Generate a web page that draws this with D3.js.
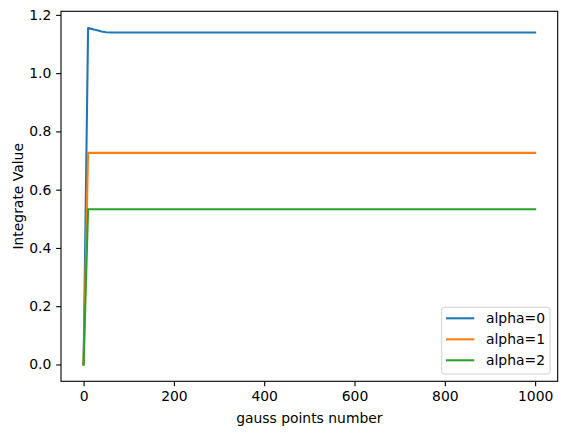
<!DOCTYPE html>
<html><head><meta charset="utf-8">
<script src="https://cdn.jsdelivr.net/npm/d3@7"></script>
<style>body{margin:0;background:#fff}svg{display:block}text{font-family:"DejaVu Sans",sans-serif}</style>
</head><body><svg id="c" width="567" height="434"></svg>
<script>
const xValues = [0, 10, 20, 30, 40, 50, 60, 100, 200, 300, 400, 500, 600, 700, 800, 900, 1000];
const alpha0 = [0, 1.1545, 1.151, 1.147, 1.143, 1.1405, 1.1397, 1.1394, 1.1394, 1.1394, 1.1394, 1.1394, 1.1394, 1.1394, 1.1394, 1.1394, 1.1394];
const alpha1 = [0, 0.7263, 0.7263, 0.7263, 0.7263, 0.7263, 0.7263, 0.7263, 0.7263, 0.7263, 0.7263, 0.7263, 0.7263, 0.7263, 0.7263, 0.7263, 0.7263];
const alpha2 = [0, 0.533, 0.533, 0.533, 0.533, 0.533, 0.533, 0.533, 0.533, 0.533, 0.533, 0.533, 0.533, 0.533, 0.533, 0.533, 0.533];
const seriesNames = ["alpha=0", "alpha=1", "alpha=2"];
const colors = ["#1f77b4", "#ff7f0e", "#2ca02c"];
const xTicks = [0, 200, 400, 600, 800, 1000];
const yTicks = [0.0, 0.2, 0.4, 0.6, 0.8, 1.0, 1.2];
const xLabel = "gauss points number";
const yLabel = "Integrate Value";

const series = [alpha0, alpha1, alpha2];
const svg = d3.select("#c");
const L = 61, R = 557.7, T = 11.3, B = 381.3;
const fs = 13.9;

const xmin = d3.min(xValues), xmax = d3.max(xValues);
const xpad = (xmax - xmin) * 0.05;
const allY = series.flat();
const ymin = d3.min(allY), ymax = d3.max(allY);
const ypad = (ymax - ymin) * 0.05;
const x = d3.scaleLinear().domain([xmin - xpad, xmax + xpad]).range([L, R]);
const y = d3.scaleLinear().domain([ymin - ypad, ymax + ypad]).range([B, T]);

const line = d3.line().x((d, i) => x(xValues[i])).y(d => y(d));
series.forEach((s, k) => {
  svg.append("path").datum(s).attr("d", line)
    .attr("fill", "none").attr("stroke", colors[k]).attr("stroke-width", 2.08)
    .attr("stroke-linejoin", "round").attr("stroke-linecap", "square");
});

const xa = svg.append("g").attr("transform", `translate(0,${B})`)
  .call(d3.axisBottom(x).tickValues(xTicks).tickFormat(d3.format("d")).tickSize(4.86).tickPadding(4.86));
const ya = svg.append("g").attr("transform", `translate(${L},0)`)
  .call(d3.axisLeft(y).tickValues(yTicks).tickFormat(d3.format(".1f")).tickSize(4.86).tickPadding(4.86));
[xa, ya].forEach(a => {
  a.select(".domain").remove();
  a.selectAll("line").attr("stroke", "#000").attr("stroke-width", 1.1);
  a.selectAll("text").attr("font-size", fs).attr("fill", "#000").attr("font-family", "DejaVu Sans");
});

svg.append("rect").attr("x", L).attr("y", T).attr("width", R - L).attr("height", B - T)
  .attr("fill", "none").attr("stroke", "#000").attr("stroke-width", 1.1);

svg.append("text").attr("x", (L + R) / 2).attr("y", 422.5).attr("text-anchor", "middle")
  .attr("font-size", fs).attr("fill", "#000").text(xLabel);
svg.append("text").attr("transform", `translate(22.5,${(T + B) / 2}) rotate(-90)`)
  .attr("text-anchor", "middle").attr("font-size", fs).attr("fill", "#000").text(yLabel);

const lg = svg.append("g");
lg.append("rect").attr("x", 441.7).attr("y", 307.3).attr("width", 108.3).attr("height", 66.7)
  .attr("rx", 2.5).attr("fill", "#fff").attr("fill-opacity", 0.8).attr("stroke", "#d0d0d0").attr("stroke-width", 1);
seriesNames.forEach((n, k) => {
  const yy = 318.3 + k * 21;
  lg.append("line").attr("x1", 446).attr("x2", 474.3).attr("y1", yy).attr("y2", yy)
    .attr("stroke", colors[k]).attr("stroke-width", 2.08);
  lg.append("text").attr("x", 486).attr("y", yy).attr("dy", "0.35em")
    .attr("font-size", fs).attr("fill", "#000").text(n);
});
</script></body></html>
